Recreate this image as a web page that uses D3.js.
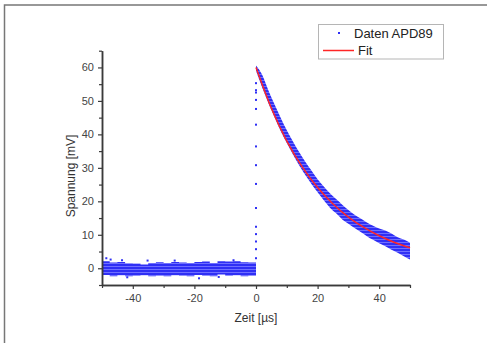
<!DOCTYPE html>
<html>
<head>
<meta charset="utf-8">
<script src="https://cdn.jsdelivr.net/npm/d3@7"></script>
<style>
  html, body { margin: 0; padding: 0; background: #fff; }
  svg { display: block; font-family: "Liberation Sans", Arial, sans-serif; }
</style>
</head>
<body>
<div id="chart"></div>
<script>
'use strict';

// baseline noise band (t < 0), envelope read every 2.5 µs
const baseT  = [-50, -47.5, -45, -42.5, -40, -37.5, -35, -32.5, -30, -27.5, -25, -22.5, -20, -17.5, -15, -12.5, -10, -7.5, -5, -2.5, 0];
const baseHi = [2.1, 1.7, 1.9, 1.5, 1.4, 1.1, 1.6, 1.8, 1.6, 1.9, 1.7, 1.6, 1.9, 2.0, 1.6, 2.1, 2.0, 2.1, 1.8, 1.7, 1.7];
const baseLo = [-2.0, -2.4, -2.1, -2.4, -2.2, -2.1, -2.4, -2.2, -2.4, -2.1, -2.2, -2.4, -2.0, -2.2, -2.4, -1.9, -2.2, -2.1, -2.4, -2.2, -2.2];

// decay band (t > 0), envelope read every 2 µs
const decT  = [0, 2, 4, 6, 8, 10, 12, 14, 16, 18, 20, 22, 24, 26, 28, 30, 32, 34, 36, 38, 40, 42, 44, 46, 48, 50];
const decHi = [60.6, 57.8, 53.2, 49.0, 45.0, 41.2, 37.9, 34.7, 31.8, 29.2, 26.6, 24.4, 22.4, 20.7, 19.0, 17.4, 16.0, 14.9, 13.7, 12.7, 11.9, 11.3, 10.4, 9.3, 8.6, 7.6];
const decLo = [59.0, 54.0, 49.4, 45.1, 41.0, 37.4, 34.0, 30.8, 27.9, 25.2, 22.7, 20.3, 18.1, 16.4, 14.6, 13.3, 12.0, 10.8, 9.6, 8.5, 7.5, 6.6, 5.5, 4.6, 3.6, 2.6];

// single points: rising edge at t = 0 and stray samples
const ptT = [0, 0, 0, 0, 0, 0, 0, 0, 0, 0, 0, 0, 0, 0, 0, -48.6, -47.2, -43.5, -41.8, -18.5, -35.2, -12.1, -26.4, -7.3];
const ptV = [55.3, 53.2, 52.5, 50.3, 47.6, 42.9, 36.4, 30.8, 25.2, 18.0, 12.4, 10.2, 8.0, 5.7, 3.0, 3.0, 2.6, 2.4, -2.7, -3.0, 2.3, -2.6, 2.3, 2.4];

// fit curve
const fitT = [0, 5, 10, 15, 20, 25, 30, 35, 40, 45, 50];
const fitV = [60, 47.8, 38.0, 30.3, 24.1, 19.2, 15.3, 12.2, 9.7, 7.7, 6.1];

const xTicks = [-40, -20, 0, 20, 40];
const xMinor = [-50, -30, -10, 10, 30, 50];
const yTicks = [0, 10, 20, 30, 40, 50, 60];
const yMinor = [-5, 5, 15, 25, 35, 45, 55, 65];

const legendLabels = ['Daten APD89', 'Fit'];

const W = 487, H = 343;
const blue = '#2f2ff5';
const red = '#ff2626';
const axisCol = '#3a3a3a';

const x = d3.scaleLinear().domain([-50, 50]).range([102, 410]);
const y = d3.scaleLinear().domain([-5, 65]).range([285, 50.7]);

const svg = d3.select('#chart').append('svg')
  .attr('width', W)
  .attr('height', H);

// pattern that mimics the dense stacks of horizontal dots
const defs = svg.append('defs');
const pat = defs.append('pattern')
  .attr('id', 'dots')
  .attr('patternUnits', 'userSpaceOnUse')
  .attr('width', 6)
  .attr('height', 3);
pat.append('rect').attr('width', 6).attr('height', 3).attr('fill', blue);
pat.append('rect').attr('y', 2).attr('width', 6).attr('height', 1).attr('fill', '#6f6fff');

// outer frame
svg.append('rect')
  .attr('x', 4.5).attr('y', 5)
  .attr('width', 700).attr('height', 700)
  .attr('fill', 'none')
  .attr('stroke', '#777')
  .attr('stroke-width', 1.5);

const zip = (ts, a, b) => ts.map((t, i) => ({ t, hi: a[i], lo: b[i] }));

const area = d3.area()
  .x((d) => x(d.t))
  .y0((d) => y(d.lo))
  .y1((d) => y(d.hi));

svg.append('path')
  .datum(zip(baseT, baseHi, baseLo))
  .attr('d', area.curve(d3.curveStepAfter))
  .attr('fill', 'url(#dots)');

svg.append('path')
  .datum(zip(decT, decHi, decLo))
  .attr('d', area.curve(d3.curveMonotoneX))
  .attr('fill', 'url(#dots)');

svg.append('g')
  .selectAll('rect')
  .data(ptT.map((t, i) => ({ t, v: ptV[i] })))
  .enter()
  .append('rect')
  .attr('x', (d) => x(d.t) - 1)
  .attr('y', (d) => y(d.v) - 1)
  .attr('width', 2)
  .attr('height', 2)
  .attr('fill', blue);

const line = d3.line()
  .x((d, i) => x(fitT[i]))
  .y((d) => y(d))
  .curve(d3.curveMonotoneX);

svg.append('path')
  .datum(fitV)
  .attr('d', line)
  .attr('fill', 'none')
  .attr('stroke', red)
  .attr('stroke-width', 1.5);

// axes
const styleAxis = (g) => {
  g.select('.domain').attr('stroke', axisCol).attr('stroke-width', 1.5);
  g.selectAll('line').attr('stroke', axisCol).attr('stroke-width', 1.2);
  g.selectAll('text').attr('fill', '#444').style('font-size', '11px');
};

svg.append('g')
  .attr('transform', 'translate(0,' + y(-5) + ')')
  .call(d3.axisBottom(x).tickValues(xMinor).tickSize(3).tickFormat('').tickSizeOuter(0))
  .call(styleAxis);
svg.append('g')
  .attr('transform', 'translate(0,' + y(-5) + ')')
  .call(d3.axisBottom(x).tickValues(xTicks).tickSize(4).tickPadding(5).tickSizeOuter(0))
  .call(styleAxis)
  .call((g) => g.selectAll('text').text((d) => d < 0 ? '-' + Math.abs(d) : d));

svg.append('g')
  .attr('transform', 'translate(' + x(-50) + ',0)')
  .call(d3.axisLeft(y).tickValues(yMinor).tickSize(3).tickFormat('').tickSizeOuter(0))
  .call(styleAxis);
svg.append('g')
  .attr('transform', 'translate(' + x(-50) + ',0)')
  .call(d3.axisLeft(y).tickValues(yTicks).tickSize(4).tickPadding(4).tickSizeOuter(0))
  .call(styleAxis);

// axis titles
svg.append('text')
  .attr('x', 256).attr('y', 322)
  .attr('text-anchor', 'middle')
  .attr('fill', '#333')
  .style('font-size', '12px')
  .text('Zeit [µs]');

svg.append('text')
  .attr('transform', 'translate(75,176) rotate(-90)')
  .attr('text-anchor', 'middle')
  .attr('fill', '#333')
  .style('font-size', '12px')
  .text('Spannung [mV]');

// legend
const lg = svg.append('g');
lg.append('rect')
  .attr('x', 318.5).attr('y', 24.5)
  .attr('width', 125).attr('height', 34.5)
  .attr('fill', '#fff')
  .attr('stroke', '#b5b5b5');
lg.append('rect')
  .attr('x', 338).attr('y', 32)
  .attr('width', 2).attr('height', 2)
  .attr('fill', blue);
lg.append('line')
  .attr('x1', 323).attr('x2', 354)
  .attr('y1', 50.5).attr('y2', 50.5)
  .attr('stroke', red)
  .attr('stroke-width', 1.5);
lg.selectAll('text.lab')
  .data(legendLabels)
  .enter()
  .append('text')
  .attr('class', 'lab')
  .attr('x', (d, i) => i === 0 ? 354 : 358)
  .attr('y', (d, i) => i === 0 ? 38 : 55)
  .attr('fill', '#222')
  .style('font-size', '13px')
  .text((d) => d);
</script>
</body>
</html>
